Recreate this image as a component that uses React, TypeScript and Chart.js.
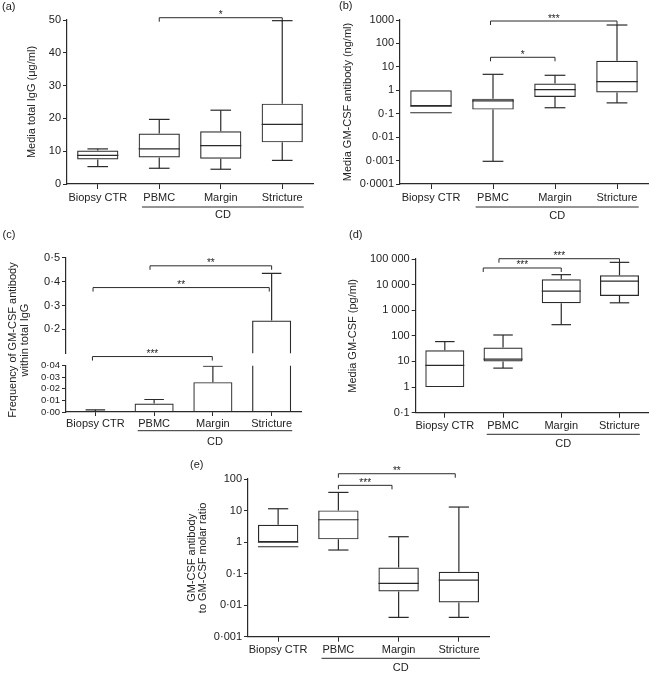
import React, { useEffect, useRef } from 'react';
import { Chart, registerables } from 'chart.js';

Chart.register(...registerables);

const FONT = "'Liberation Sans', Arial, Helvetica, sans-serif";
const LINE = '#2a2a2a';
const TEXT = '#222222';

// ---------- shared ----------
const categories = ['Biopsy CTR', 'PBMC', 'Margin', 'Stricture'];
const groupLabel = 'CD';

// ---------- (a) Media total IgG (µg/ml) ----------
const aMin = [5.3, 4.8, 4.5, 7.2];
const aQ1 = [7.5, 8.1, 7.7, 12.7];
const aMedian = [8.7, 10.7, 11.7, 18.2];
const aQ3 = [10.2, 15.4, 16.1, 24.5];
const aMax = [10.7, 19.7, 22.5, 49.8];
const aTicks = [0, 10, 20, 30, 40, 50];
const aTickLabels = ['0', '10', '20', '30', '40', '50'];

// ---------- (b) Media GM-CSF antibody (ng/ml) ----------
const bMin = [0.21, 0.00093, 0.18, 0.29];
const bQ1 = [0.21, 0.15, 0.52, 0.8];
const bMedian = [0.21, 0.35, 1.07, 2.35];
const bQ3 = [1.0, 0.44, 1.93, 18.2];
const bMax = [1.0, 4.8, 4.37, 611];
const bExtraLine: (number | null)[] = [0.11, null, null, null];
const bTicks = [0.0001, 0.001, 0.01, 0.1, 1, 10, 100, 1000];
const bTickLabels = ['0·0001', '0·001', '0·01', '0·1', '1', '10', '100', '1000'];

// ---------- (c) Frequency of GM-CSF antibody within total IgG ----------
const cMean = [0.0007, 0.0073, 0.0258, 0.237];
const cSem = [0.0012, 0.0035, 0.0138, 0.197];
const cUpperTicks = [0.2, 0.3, 0.4, 0.5];
const cUpperTickLabels = ['0·2', '0·3', '0·4', '0·5'];
const cLowerTicks = [0, 0.01, 0.02, 0.03, 0.04];
const cLowerTickLabels = ['0·00', '0·01', '0·02', '0·03', '0·04'];

// ---------- (d) Media GM-CSF (pg/ml) ----------
const dMin = [1, 5.5, 273, 1950];
const dQ1 = [1, 10, 1890, 3630];
const dMedian = [7.0, 12.3, 5540, 13800];
const dQ3 = [27.5, 34.9, 16200, 23000];
const dMax = [59.7, 108, 24500, 74000];
const dTicks = [0.1, 1, 10, 100, 1000, 10000, 100000];
const dTickLabels = ['0·1', '1', '10', '100', '1 000', '10 000', '100 000'];

// ---------- (e) GM-CSF antibody to GM-CSF molar ratio ----------
const eMin = [1.0, 0.56, 0.0041, 0.0041];
const eQ1 = [1.0, 1.22, 0.027, 0.0122];
const eMedian = [1.0, 5.1, 0.049, 0.062];
const eQ3 = [3.55, 10.1, 0.157, 0.115];
const eMax = [11.4, 37.6, 1.48, 12.9];
const eExtraLine: (number | null)[] = [0.71, null, null, null];
const eTicks = [0.001, 0.01, 0.1, 1, 10, 100];
const eTickLabels = ['0·001', '0·01', '0·1', '1', '10', '100'];

// ---------- significance brackets ----------
type Bracket = { from: number; to: number; y: number; label: string };
const aBrackets: Bracket[] = [{ from: 1, to: 3, y: 50.7, label: '*' }];
const bBrackets: Bracket[] = [
  { from: 0.96, to: 3, y: 906, label: '***' },
  { from: 0.96, to: 2, y: 25.6, label: '*' },
];
const cBrackets: Bracket[] = [
  { from: 0.93, to: 3, y: 0.466, label: '**' },
  { from: -0.04, to: 2.96, y: 0.375, label: '**' },
  { from: -0.05, to: 1.99, y: 0.0864, label: '***' },
];
const dBrackets: Bracket[] = [
  { from: 0.93, to: 3, y: 102700, label: '***' },
  { from: 0.66, to: 2, y: 44570, label: '***' },
];
const eBrackets: Bracket[] = [
  { from: 1, to: 2.94, y: 147, label: '**' },
  { from: 1, to: 1.89, y: 63, label: '***' },
];

// ---------- helpers ----------
function seg(ctx: CanvasRenderingContext2D, x1: number, y1: number, x2: number, y2: number) {
  ctx.beginPath();
  ctx.moveTo(x1, y1);
  ctx.lineTo(x2, y2);
  ctx.stroke();
}

function boxPlugin(q1: number[], q3: number[], min: number[], median: number[], max: number[], extra?: (number | null)[]) {
  return {
    id: 'boxWhiskers',
    afterDatasetsDraw(chart: any) {
      const ctx = chart.ctx as CanvasRenderingContext2D;
      const ys = chart.scales.y;
      const meta = chart.getDatasetMeta(0);
      ctx.save();
      ctx.strokeStyle = LINE;
      ctx.lineWidth = 1.2;
      meta.data.forEach((el: any, i: number) => {
        const x = el.x;
        const half = el.width / 2;
        const cap = half / 2;
        const ym = ys.getPixelForValue(median[i]);
        seg(ctx, x - half, ym, x + half, ym);
        if (max[i] > q3[i]) {
          const a = ys.getPixelForValue(q3[i]);
          const b = ys.getPixelForValue(max[i]);
          seg(ctx, x, a, x, b);
          seg(ctx, x - cap, b, x + cap, b);
        }
        if (min[i] < q1[i]) {
          const a = ys.getPixelForValue(q1[i]);
          const b = ys.getPixelForValue(min[i]);
          seg(ctx, x, a, x, b);
          seg(ctx, x - cap, b, x + cap, b);
        }
        if (extra && extra[i] != null) {
          const ye = ys.getPixelForValue(extra[i] as number);
          seg(ctx, x - half, ye, x + half, ye);
        }
      });
      ctx.restore();
    },
  };
}

function errorPlugin(mean: number[], sem: number[]) {
  return {
    id: 'errorBars',
    afterDatasetsDraw(chart: any) {
      const ctx = chart.ctx as CanvasRenderingContext2D;
      const ys = chart.scales.y;
      const a = chart.chartArea;
      const meta = chart.getDatasetMeta(0);
      ctx.save();
      ctx.beginPath();
      ctx.rect(a.left, a.top, a.right - a.left, a.bottom - a.top);
      ctx.clip();
      ctx.strokeStyle = LINE;
      ctx.lineWidth = 1.2;
      meta.data.forEach((el: any, i: number) => {
        const x = el.x;
        const cap = el.width / 4;
        const y0 = ys.getPixelForValue(mean[i]);
        const y1 = ys.getPixelForValue(mean[i] + sem[i]);
        seg(ctx, x, y0, x, y1);
        seg(ctx, x - cap, y1, x + cap, y1);
      });
      ctx.restore();
    },
  };
}

type Decor = {
  brackets?: Bracket[];
  label?: { text: string; x: number; y: number };
  cd?: { line: number; text: number };
  sideTitle?: { lines: string[]; x: number; y: number; lineHeight: number };
};

function decorPlugin(d: Decor) {
  return {
    id: 'decor',
    afterDraw(chart: any) {
      const ctx = chart.ctx as CanvasRenderingContext2D;
      const xs = chart.scales.x;
      const ys = chart.scales.y;
      ctx.save();
      ctx.strokeStyle = LINE;
      ctx.fillStyle = TEXT;
      ctx.lineWidth = 1;
      if (d.brackets) {
        ctx.font = `10px ${FONT}`;
        ctx.textAlign = 'center';
        ctx.textBaseline = 'alphabetic';
        for (const b of d.brackets) {
          const x1 = xs.getPixelForValue(b.from);
          const x2 = xs.getPixelForValue(b.to);
          const y = ys.getPixelForValue(b.y);
          ctx.beginPath();
          ctx.moveTo(x1, y + 4);
          ctx.lineTo(x1, y);
          ctx.lineTo(x2, y);
          ctx.lineTo(x2, y + 4);
          ctx.stroke();
          ctx.fillText(b.label, (x1 + x2) / 2, y + 0.5);
        }
      }
      if (d.cd) {
        const bottom = chart.chartArea.bottom;
        const x1 = xs.getPixelForValue(0.72);
        const x2 = xs.getPixelForValue(3.35);
        seg(ctx, x1, bottom + d.cd.line, x2, bottom + d.cd.line);
        ctx.font = `11px ${FONT}`;
        ctx.textAlign = 'center';
        ctx.textBaseline = 'middle';
        ctx.fillText(groupLabel, (x1 + x2) / 2, bottom + d.cd.text);
      }
      if (d.label) {
        ctx.font = `11px ${FONT}`;
        ctx.textAlign = 'left';
        ctx.textBaseline = 'middle';
        ctx.fillText(d.label.text, d.label.x, d.label.y);
      }
      if (d.sideTitle) {
        const t = d.sideTitle;
        ctx.font = `11px ${FONT}`;
        ctx.textAlign = 'center';
        ctx.textBaseline = 'middle';
        ctx.translate(t.x, t.y);
        ctx.rotate(-Math.PI / 2);
        t.lines.forEach((ln, i) => ctx.fillText(ln, 0, i * t.lineHeight));
      }
      ctx.restore();
    },
  };
}

type YOpts = {
  type: 'linear' | 'logarithmic';
  min: number;
  max: number;
  ticks: number[];
  labels: string[];
  width: number;
  title?: string | string[];
  titlePad?: number;
  titleLH?: number;
  fontSize?: number;
};

function yScale(o: YOpts) {
  return {
    type: o.type,
    min: o.min,
    max: o.max,
    afterBuildTicks: (s: any) => {
      s.ticks = o.ticks.map((v) => ({ value: v }));
    },
    afterFit: (s: any) => {
      s.width = o.width;
    },
    ticks: {
      autoSkip: false,
      padding: 2,
      color: TEXT,
      font: { family: FONT, size: o.fontSize ?? 11 },
      callback: (_v: any, i: number) => o.labels[i],
    },
    grid: { drawOnChartArea: false, drawTicks: true, tickLength: 4, color: LINE, lineWidth: 1 },
    border: { display: true, color: LINE, width: 1.2 },
    title: o.title
      ? {
          display: true,
          text: o.title,
          color: TEXT,
          font: { family: FONT, size: 11, lineHeight: o.titleLH ?? 1.2 },
          padding: { top: o.titlePad ?? 0, bottom: 0 },
        }
      : { display: false },
  };
}

function xScale(height: number, display = true, tickLength = 5, padding = 2) {
  return {
    type: 'category',
    offset: true,
    display,
    afterFit: (s: any) => {
      s.height = height;
    },
    grid: { offset: false, drawOnChartArea: false, drawTicks: true, tickLength, color: LINE, lineWidth: 1 },
    border: { display: true, color: LINE, width: 1.2 },
    ticks: {
      autoSkip: false,
      maxRotation: 0,
      minRotation: 0,
      padding,
      color: TEXT,
      font: { family: FONT, size: 11 },
    },
  };
}

type BoxSpec = {
  min: number[];
  q1: number[];
  median: number[];
  q3: number[];
  max: number[];
  extra?: (number | null)[];
  y: YOpts;
  xHeight: number;
  padding: { top: number; right: number; left: number; bottom: number };
  decor: Decor;
};

function boxConfig(s: BoxSpec): any {
  return {
    type: 'bar',
    data: {
      labels: categories,
      datasets: [
        {
          data: s.q1.map((v, i) => [v, s.q3[i]]),
          backgroundColor: 'rgba(255,255,255,0)',
          borderColor: LINE,
          borderWidth: 1.2,
          borderSkipped: false,
          barPercentage: 0.67,
          categoryPercentage: 1,
        },
      ],
    },
    options: {
      responsive: false,
      animation: false,
      devicePixelRatio: 1,
      layout: { padding: s.padding },
      plugins: { legend: { display: false }, tooltip: { enabled: false } },
      scales: { x: xScale(s.xHeight), y: yScale(s.y) },
    },
    plugins: [boxPlugin(s.q1, s.q3, s.min, s.median, s.max, s.extra), decorPlugin(s.decor)],
  };
}

function barConfig(
  y: YOpts,
  xDisplay: boolean,
  xHeight: number,
  padding: { top: number; right: number; left: number; bottom: number },
  decor: Decor
): any {
  return {
    type: 'bar',
    data: {
      labels: categories,
      datasets: [
        {
          data: cMean,
          backgroundColor: 'rgba(255,255,255,0)',
          borderColor: LINE,
          borderWidth: 1.2,
          borderSkipped: 'start',
          barPercentage: 0.665,
          categoryPercentage: 1,
          clip: 0,
        },
      ],
    },
    options: {
      responsive: false,
      animation: false,
      devicePixelRatio: 1,
      layout: { padding },
      plugins: { legend: { display: false }, tooltip: { enabled: false } },
      scales: { x: xScale(xHeight, xDisplay, 4, 1), y: yScale(y) },
    },
    plugins: [errorPlugin(cMean, cSem), decorPlugin(decor)],
  };
}

// ---------- panel configs ----------
const panelA = () =>
  boxConfig({
    min: aMin, q1: aQ1, median: aMedian, q3: aQ3, max: aMax,
    y: { type: 'linear', min: 0, max: 50, ticks: aTicks, labels: aTickLabels, width: 67, title: 'Media total IgG (μg/ml)', titlePad: 25.4 },
    xHeight: 46,
    padding: { top: 20, right: 12, left: 0, bottom: 0 },
    decor: { brackets: aBrackets, label: { text: '(a)', x: 2, y: 7 }, cd: { line: 23, text: 31 } },
  });

const panelB = () =>
  boxConfig({
    min: bMin, q1: bQ1, median: bMedian, q3: bQ3, max: bMax, extra: bExtraLine,
    y: { type: 'logarithmic', min: 0.0001, max: 1000, ticks: bTicks, labels: bTickLabels, width: 75, title: 'Media GM-CSF antibody (ng/ml)', titlePad: 16.7 },
    xHeight: 46,
    padding: { top: 20, right: 2, left: 0, bottom: 0 },
    decor: { brackets: bBrackets, label: { text: '(b)', x: 14, y: 6 }, cd: { line: 23, text: 32 } },
  });

const panelCUpper = () =>
  barConfig(
    { type: 'linear', min: 0.1, max: 0.5, ticks: cUpperTicks, labels: cUpperTickLabels, width: 66 },
    false,
    0,
    { top: 32.7, right: 24, left: 0, bottom: 101.7 },
    {
      brackets: cBrackets,
      label: { text: '(c)', x: 2.5, y: 9.7 },
      sideTitle: { lines: ['Frequency of GM-CSF antibody', 'within total IgG'], x: 13.3, y: 115, lineHeight: 11.7 },
    }
  );

const panelCLower = () =>
  barConfig(
    { type: 'linear', min: 0, max: 0.04, ticks: cLowerTicks, labels: cLowerTickLabels, width: 66, fontSize: 9.5 },
    true,
    43,
    { top: 140.7, right: 24, left: 0, bottom: 0 },
    { cd: { line: 18.7, text: 29.7 } }
  );

const panelD = () =>
  boxConfig({
    min: dMin, q1: dQ1, median: dMedian, q3: dQ3, max: dMax,
    y: { type: 'logarithmic', min: 0.1, max: 100000, ticks: dTicks, labels: dTickLabels, width: 90.7, title: 'Media GM-CSF (pg/ml)', titlePad: 21.7 },
    xHeight: 42.3,
    padding: { top: 34, right: 1.4, left: 0, bottom: 0 },
    decor: { brackets: dBrackets, label: { text: '(d)', x: 24, y: 10 }, cd: { line: 21.6, text: 31.3 } },
  });

const panelE = () =>
  boxConfig({
    min: eMin, q1: eQ1, median: eMedian, q3: eQ3, max: eMax, extra: eExtraLine,
    y: {
      type: 'logarithmic', min: 0.001, max: 100, ticks: eTicks, labels: eTickLabels, width: 88,
      title: ['GM-CSF antibody', 'to GM-CSF molar ratio'], titlePad: 25.9, titleLH: 1.055,
    },
    xHeight: 38.3,
    padding: { top: 24, right: 11, left: 0, bottom: 0 },
    decor: { brackets: eBrackets, label: { text: '(e)', x: 30, y: 10.3 }, cd: { line: 21.6, text: 31.6 } },
  });

function ChartCanvas(props: { left: number; top: number; width: number; height: number; build: () => any }) {
  const ref = useRef<HTMLCanvasElement>(null);
  useEffect(() => {
    const chart = new Chart(ref.current as HTMLCanvasElement, props.build());
    return () => chart.destroy();
  }, []);
  return (
    <canvas
      ref={ref}
      width={props.width}
      height={props.height}
      style={{ position: 'absolute', left: props.left, top: props.top, width: props.width, height: props.height }}
    />
  );
}

export default function App() {
  return (
    <div style={{ position: 'absolute', left: 0, top: 0, width: 650, height: 675, background: '#ffffff', overflow: 'hidden' }}>
      <ChartCanvas left={0} top={0} width={325} height={230} build={panelA} />
      <ChartCanvas left={325} top={0} width={325} height={230} build={panelB} />
      <ChartCanvas left={0} top={225} width={325} height={230} build={panelCUpper} />
      <ChartCanvas left={0} top={225} width={325} height={230} build={panelCLower} />
      <ChartCanvas left={325} top={225} width={325} height={230} build={panelD} />
      <ChartCanvas left={160} top={455} width={340} height={220} build={panelE} />
    </div>
  );
}
